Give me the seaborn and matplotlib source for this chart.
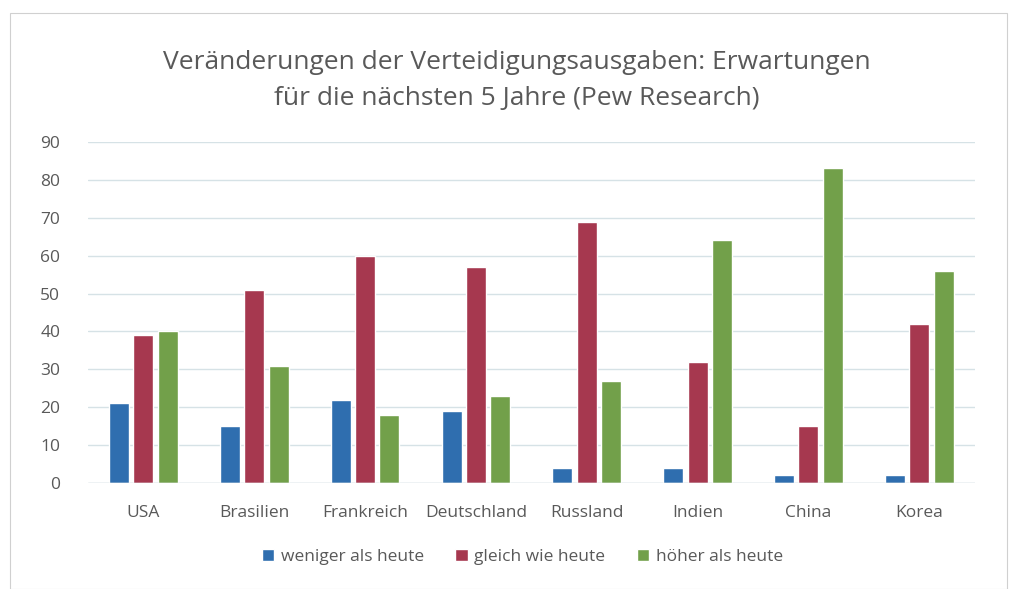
import pandas as pd
import matplotlib.pyplot as plt
import seaborn as sns
from matplotlib.patches import Rectangle

# Daten (Pew Research)
laender = ['USA', 'Brasilien', 'Frankreich', 'Deutschland', 'Russland', 'Indien', 'China', 'Korea']
weniger = [21, 15, 22, 19, 4, 4, 2, 2]
gleich = [39, 51, 60, 57, 69, 32, 15, 42]
hoeher = [40, 31, 18, 23, 27, 64, 83, 56]
serien = ['weniger als heute', 'gleich wie heute', 'höher als heute']
farben = ['#2F6EAF', '#A6384F', '#72A04A']
y_ticks = [0, 10, 20, 30, 40, 50, 60, 70, 80, 90]

df = pd.DataFrame({'Land': laender, serien[0]: weniger, serien[1]: gleich, serien[2]: hoeher})
df_long = df.melt(id_vars='Land', var_name='Erwartung', value_name='Wert')

sns.set_theme(style='white')
plt.rcParams['font.family'] = ['Open Sans', 'DejaVu Sans']

fig = plt.figure(figsize=(10.12, 5.89), dpi=100)
ax = fig.add_axes([0.087, 0.18, 0.876, 0.579])

sns.barplot(data=df_long, x='Land', y='Wert', hue='Erwartung', hue_order=serien,
            palette=farben, width=0.66, gap=0.18, saturation=1, ax=ax)

ax.set_ylim(0, 90)
ax.set_yticks(y_ticks)
ax.grid(axis='y', color='#D6E2E6', linewidth=1)
ax.set_axisbelow(True)
for s in ax.spines.values():
    s.set_visible(False)
ax.axhline(0, color='#D0D8DC', linewidth=1)
ax.set_xlabel('')
ax.set_ylabel('')
ax.tick_params(axis='both', length=0, labelsize=12.5, colors='#595959')
ax.tick_params(axis='x', pad=16)
ax.tick_params(axis='y', pad=20)

ax.legend(loc='upper center', bbox_to_anchor=(0.49, -0.148), ncol=3, frameon=False,
          fontsize=12.5, handlelength=0.7, handleheight=0.7, columnspacing=1.8,
          handletextpad=0.4, labelcolor='#595959')

fig.suptitle('Veränderungen der Verteidigungsausgaben: Erwartungen\nfür die nächsten 5 Jahre (Pew Research)',
             x=0.511, y=0.915, fontsize=19, color='#595959', linespacing=1.55)

# dünner Rahmen wie im Scan
fig.patches.append(Rectangle((0.01, 0.0), 0.985, 0.978, transform=fig.transFigure,
                             fill=False, edgecolor='#D0D0D0', linewidth=0.8))

fig.savefig('out.png', dpi=100)
